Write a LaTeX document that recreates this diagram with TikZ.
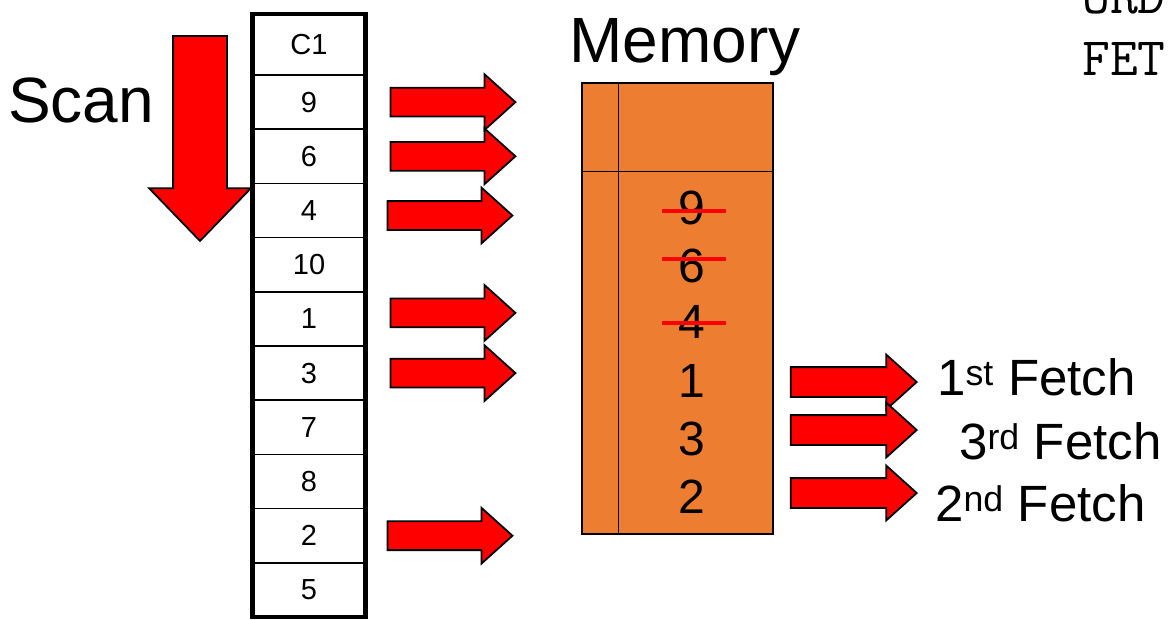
\documentclass[tikz,border=0pt]{standalone}
\usepackage{fontspec}
\setmainfont{Liberation Sans}
\usetikzlibrary{positioning,shapes.arrows,calc}
\definecolor{memorange}{HTML}{ED7D31}
\definecolor{hotred}{HTML}{FF0000}
\tikzset{
  cell/.style={rectangle, draw=black, line width=1.6pt, minimum width=113pt, minimum height=54.2pt,
               inner sep=0pt, outer sep=0pt, font=\fontsize{29}{34}\selectfont},
  frame/.style={draw=black, line width=4.5pt},
  blockarrow/.style={single arrow, draw=black, fill=hotred, line width=1.8pt, inner xsep=0pt,
                     inner ysep=13.5pt, minimum height=125pt, single arrow head extend=13.5pt,
                     single arrow tip angle=84},
  membox/.style={rectangle, draw=black, fill=memorange, line width=1.5pt, minimum width=191pt,
                 minimum height=451pt, inner sep=0pt},
  memline/.style={draw=black, line width=1.5pt},
  memnum/.style={font=\fontsize{48}{56}\selectfont, inner sep=0pt},
  strike/.style={draw=hotred, line width=4.5pt},
  biglbl/.style={font=\fontsize{64}{76}\selectfont, inner sep=0pt, anchor=base west},
  fetchlbl/.style={font=\fontsize{51}{61}\selectfont, inner sep=0pt, anchor=base west},
  sqltxt/.style={font=\ttfamily\fontsize{54}{62}\selectfont, inner sep=0pt, anchor=base west}
}
\begin{document}
\begin{tikzpicture}[x=1pt, y=-1pt]
 \useasboundingbox (0,0) rectangle (1174,619);
 % the scanned column
 \node[cell, minimum height=61pt] (c1) at (309,44.5) {C1};
 \node[cell, below=0pt of c1] (v9) {9};
 \node[cell, below=0pt of v9] (v6) {6};
 \node[cell, below=0pt of v6] (v4) {4};
 \node[cell, below=0pt of v4] (v10) {10};
 \node[cell, below=0pt of v10] (v1) {1};
 \node[cell, below=0pt of v1] (v3) {3};
 \node[cell, below=0pt of v3] (v7) {7};
 \node[cell, below=0pt of v7] (v8) {8};
 \node[cell, below=0pt of v8] (v2) {2};
 \node[cell, below=0pt of v2] (v5) {5};
 \draw[frame] (c1.north west) rectangle (v5.south east);

 \node[biglbl] (scan) at (8,122) {Scan};
 \node[blockarrow, rotate=-90, minimum height=205pt, inner ysep=26pt,
       single arrow head extend=24pt, single arrow tip angle=88] (scanarr) at (200,124.5) {};

 % rows that qualify go to memory
 \node[blockarrow, right=24pt of v9] (a9) {};
 \node[blockarrow, right=24pt of v6] (a6) {};
 \node[blockarrow, right=21pt of v4, yshift=-5pt] (a4) {};
 \node[blockarrow, right=24pt of v1, yshift=6pt] (a1) {};
 \node[blockarrow, right=24pt of v3] (a3) {};
 \node[blockarrow, right=21pt of v2] (a2) {};

 % memory buffer
 \node[biglbl] (memlbl) at (569,62) {Memory};
 \node[membox] (mem) at (677.5,308.5) {};
 \draw[memline] ($(mem.north west)+(37,0)$) -- ($(mem.south west)+(37,0)$);
 \draw[memline] ($(mem.north west)+(0,89)$) -- ($(mem.north east)+(0,89)$);
 \node[memnum] (m9) at (692,208) {9};
 \node[memnum] (m6) at (692,266) {6};
 \node[memnum] (m4) at (692,322) {4};
 \node[memnum] (m1) at (692,381) {1};
 \node[memnum] (m3) at (692,439) {3};
 \node[memnum] (m2) at (692,497) {2};
 \draw[strike] ($(m9)+(-30,3)$) -- ($(m9)+(34,3)$);
 \draw[strike] ($(m6)+(-30,-7)$) -- ($(m6)+(34,-7)$);
 \draw[strike] ($(m4)+(-30,1)$) -- ($(m4)+(34,1)$);

 % fetch order
 \node[blockarrow, anchor=west, minimum height=126pt, inner ysep=14pt, single arrow head extend=12.5pt,
       xshift=16pt, yshift=-1pt] (f1) at (mem.east |- m1) {};
 \node[blockarrow, anchor=west, minimum height=126pt, inner ysep=14pt, single arrow head extend=12.5pt,
       xshift=16pt, yshift=9pt] (f3) at (mem.east |- m3) {};
 \node[blockarrow, anchor=west, minimum height=126pt, inner ysep=14pt, single arrow head extend=12.5pt,
       xshift=16pt, yshift=4pt] (f2) at (mem.east |- m2) {};
 \node[fetchlbl] (l1) at (937,395) {1\textsuperscript{st} Fetch};
 \node[fetchlbl] (l3) at (959,459) {3\textsuperscript{rd} Fetch};
 \node[fetchlbl] (l2) at (935,521) {2\textsuperscript{nd} Fetch};

 \node[sqltxt] (sql1) at (1082,13) {ORD};
 \node[sqltxt] (sql2) at (1082,75) {FET};
\end{tikzpicture}
\end{document}
